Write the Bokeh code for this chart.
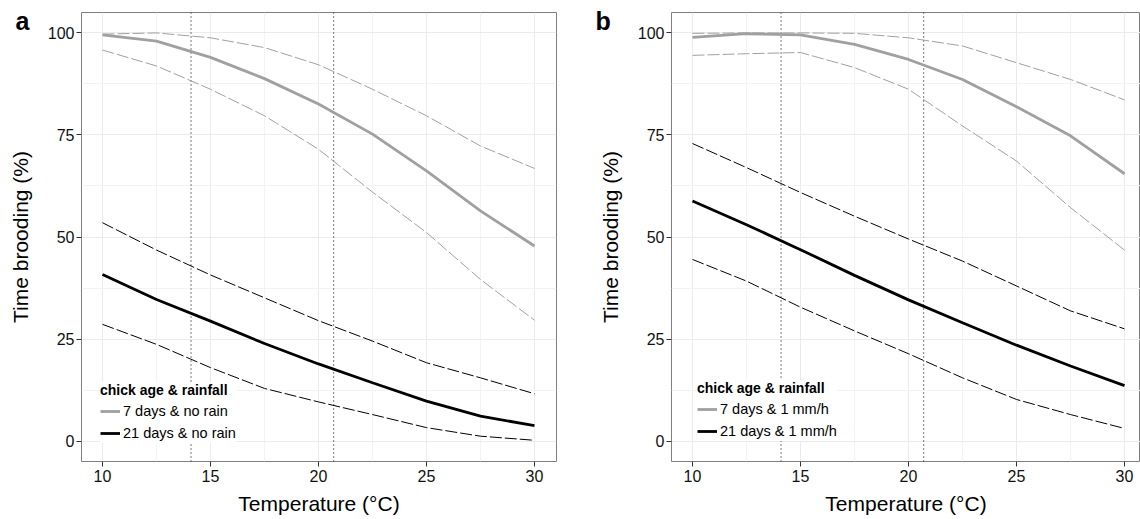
from bokeh.plotting import figure
from bokeh.models import Range1d, FixedTicker, Legend, LegendItem
from bokeh.layouts import row
from bokeh.embed import file_html
from bokeh.resources import INLINE

# ---------------- data ----------------
temperature = [10, 12.5, 15, 17.5, 20, 22.5, 25, 27.5, 30]

# panel a: no rain
a_7d_mean = [99.5, 98.0, 94.0, 88.8, 82.6, 75.2, 66.2, 56.4, 47.8]
a_7d_upper = [99.7, 100.0, 98.8, 96.4, 92.2, 86.2, 79.7, 72.3, 66.8]
a_7d_lower = [95.8, 91.9, 86.2, 79.7, 71.5, 61.0, 51.1, 39.6, 29.6]
a_21d_mean = [40.8, 34.7, 29.4, 23.9, 18.9, 14.3, 9.8, 6.1, 3.8]
a_21d_upper = [53.5, 46.8, 40.7, 35.1, 29.5, 24.5, 19.2, 15.5, 11.6]
a_21d_lower = [28.6, 23.7, 18.0, 12.9, 9.6, 6.5, 3.3, 1.2, 0.2]

# panel b: 1 mm/h rain
b_7d_mean = [98.9, 99.8, 99.5, 97.2, 93.5, 88.6, 81.9, 74.8, 65.5]
b_7d_upper = [99.9, 100.0, 100.0, 99.9, 98.8, 96.8, 92.7, 88.6, 83.6]
b_7d_lower = [94.5, 94.9, 95.2, 91.5, 86.2, 77.2, 68.6, 57.2, 46.8]
b_21d_mean = [58.8, 53.0, 46.9, 40.6, 34.6, 29.0, 23.5, 18.4, 13.6]
b_21d_upper = [72.9, 67.0, 60.9, 55.1, 49.5, 44.1, 38.0, 31.9, 27.5]
b_21d_lower = [44.5, 39.2, 32.8, 27.0, 21.4, 15.5, 10.2, 6.5, 3.1]

thresholds = [14.1, 20.7]
x_ticks = [10, 15, 20, 25, 30]
x_minor = [12.5, 17.5, 22.5, 27.5]
y_ticks = [0, 25, 50, 75, 100]
y_minor = [12.5, 37.5, 62.5, 87.5]
y_limits = (-5, 105)

a_labels = ["7 days & no rain", "21 days & no rain"]
b_labels = ["7 days & 1 mm/h", "21 days & 1 mm/h"]
legend_title = "chick age & rainfall"
x_title = "Temperature (°C)"
y_title = "Time brooding (%)"

FONT = "Liberation Sans"
GREY = "#a0a0a0"
BLACK = "#000000"
X_START = 9.028
PX_PER_UNIT = 21.6


def make_panel(letter, series, labels, width, border_left, x_end, leg_x, leg_y, letter_offset):
    frame_w = int(round((x_end - X_START) * PX_PER_UNIT))
    p = figure(width=width, height=519, output_backend="svg", toolbar_location=None,
               x_range=Range1d(X_START, x_end), y_range=Range1d(*y_limits),
               min_border_left=border_left, min_border_right=width - border_left - frame_w,
               min_border_top=12, min_border_bottom=58)
    p.background_fill_color = "white"
    p.border_fill_color = "white"
    p.outline_line_color = "#7f7f7f"
    p.outline_line_width = 1

    # panel letter as the figure title, pulled down into the top margin
    p.title.text = letter
    p.title.align = "left"
    p.title.vertical_align = "bottom"
    p.title.offset = letter_offset
    p.title.standoff = -45
    p.title.text_font = FONT
    p.title.text_font_size = "25px"
    p.title.text_font_style = "bold"
    p.title.text_color = "#000000"

    p.xaxis.ticker = FixedTicker(ticks=x_ticks, minor_ticks=x_minor)
    p.yaxis.ticker = FixedTicker(ticks=y_ticks, minor_ticks=y_minor)
    for g in (p.xgrid, p.ygrid):
        g.grid_line_color = "#ebebeb"
        g.grid_line_width = 1
        g.minor_grid_line_color = "#f3f3f3"
        g.minor_grid_line_width = 1
    for ax in (p.xaxis, p.yaxis):
        ax.axis_line_color = None
        ax.major_tick_line_color = "#333333"
        ax.major_tick_in = 0
        ax.major_tick_out = 5
        ax.minor_tick_line_color = None
        ax.major_label_text_font = FONT
        ax.major_label_text_font_size = "16px"
        ax.major_label_text_color = "#111111"
        ax.axis_label_text_font = FONT
        ax.axis_label_text_font_size = "21px"
        ax.axis_label_text_font_style = "normal"
        ax.axis_label_text_color = "#000000"
    p.xaxis.axis_label = x_title
    p.yaxis.axis_label = y_title
    p.xaxis.major_label_standoff = 3
    p.xaxis.axis_label_standoff = 7
    p.yaxis.major_label_standoff = 2
    p.yaxis.axis_label_standoff = 13

    # threshold temperatures
    for t in thresholds:
        p.segment(x0=t, y0=y_limits[0], x1=t, y1=y_limits[1], line_color="#222222",
                  line_width=1.2, line_dash="1 3")

    m7, u7, l7, m21, u21, l21 = series
    p.line(temperature, u7, line_color=GREY, line_width=1, line_dash="12 3")
    p.line(temperature, l7, line_color=GREY, line_width=1, line_dash="12 3")
    r7 = p.line(temperature, m7, line_color=GREY, line_width=2.8)
    p.line(temperature, u21, line_color=BLACK, line_width=1, line_dash="12 3")
    p.line(temperature, l21, line_color=BLACK, line_width=1, line_dash="12 3")
    r21 = p.line(temperature, m21, line_color=BLACK, line_width=2.8)

    legend = Legend(items=[LegendItem(label=labels[0], renderers=[r7]),
                           LegendItem(label=labels[1], renderers=[r21])],
                    location=(leg_x, leg_y), title=legend_title,
                    title_text_font=FONT, title_text_font_style="bold",
                    title_text_font_size="14px", title_standoff=3,
                    title_text_color="#000000",
                    label_text_font=FONT, label_text_font_size="14.5px",
                    label_text_color="#000000",
                    glyph_width=20, glyph_height=20, label_height=20,
                    label_standoff=3, spacing=2, padding=8, margin=0,
                    border_line_color=None, background_fill_color="white",
                    background_fill_alpha=1.0)
    p.add_layout(legend)
    return p


pa = make_panel("a", (a_7d_mean, a_7d_upper, a_7d_lower, a_21d_mean, a_21d_upper, a_21d_lower),
                a_labels, 570, 81, 31.02, 19, 18, -66)
pb = make_panel("b", (b_7d_mean, b_7d_upper, b_7d_lower, b_21d_mean, b_21d_upper, b_21d_lower),
                b_labels, 570, 101, 30.74, 26, 20, -76)

layout = row(pa, pb)
open("out.html", "w").write(file_html(layout, INLINE))
